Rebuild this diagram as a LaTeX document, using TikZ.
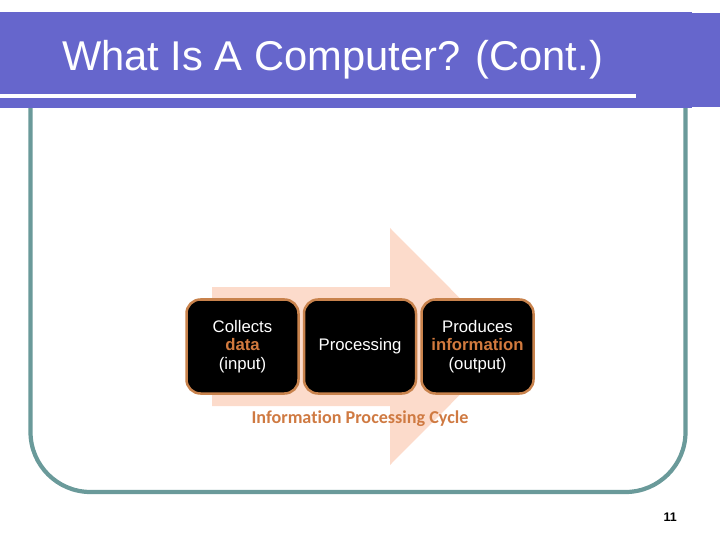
\documentclass[tikz,border=0pt]{standalone}
\usepackage{fontspec}
\setmainfont{Liberation Sans}
\newfontfamily\capfont[Ligatures=NoCommon]{Carlito}
\definecolor{barpurple}{HTML}{6666CC}
\definecolor{frameteal}{HTML}{6A9A9A}
\definecolor{peach}{HTML}{FCDBCB}
\definecolor{boxedge}{HTML}{C8824C}
\definecolor{hiorange}{HTML}{D27A3E}
\definecolor{caporange}{HTML}{CF7A42}
\tikzset{
  procbox/.style={draw=boxedge, line width=2.5bp, fill=black, rounded corners=14bp,
    minimum width=112bp, minimum height=94bp, inner sep=0pt, text=white, align=center,
    font=\fontsize{16.8}{18.8}\selectfont}
}
\newcommand{\hiword}[1]{\textcolor{hiorange}{\bfseries #1}}
\begin{document}
\begin{tikzpicture}[x=1bp,y=-1bp]
\useasboundingbox (0,0) rectangle (720,540);
% frame
\draw[frameteal, line width=4.2bp, rounded corners=60bp]
  (30.5,100) -- (30.5,492) -- (685.5,492) -- (685.5,100);
% title bar
\fill[barpurple] (0,12) rectangle (692,108);
\fill[barpurple] (692,13) rectangle (720,107);
\fill[white] (0,94) rectangle (636,98);
\node[anchor=base west, text=white, font=\fontsize{41.8}{45}\selectfont, inner sep=0pt]
  (title) at (62,71) {What Is A Computer? (Cont.)};
% big arrow
\fill[peach] (212,287) -- (390,287) -- (390,228) -- (508,346.5) -- (390,465)
  -- (390,406) -- (212,406) -- cycle;
% boxes
\node[procbox] (input) at (242.5,346.5) {Collects\\\hiword{data}\\(input)};
\node[procbox] (proc) at (360,346.5) {Processing};
\node[procbox] (output) at (477.5,346.5) {Produces\\\hiword{information}\\(output)};
% caption
\node[text=caporange, font=\capfont\bfseries\fontsize{18.2}{20}\selectfont, inner sep=0pt]
  (cap) at (360,419) {Information Processing Cycle};
% page number
\node[anchor=base east, font=\bfseries\fontsize{12.5}{14}\selectfont, inner sep=0pt]
  (pnum) at (677,521) {11};
\end{tikzpicture}
\end{document}
